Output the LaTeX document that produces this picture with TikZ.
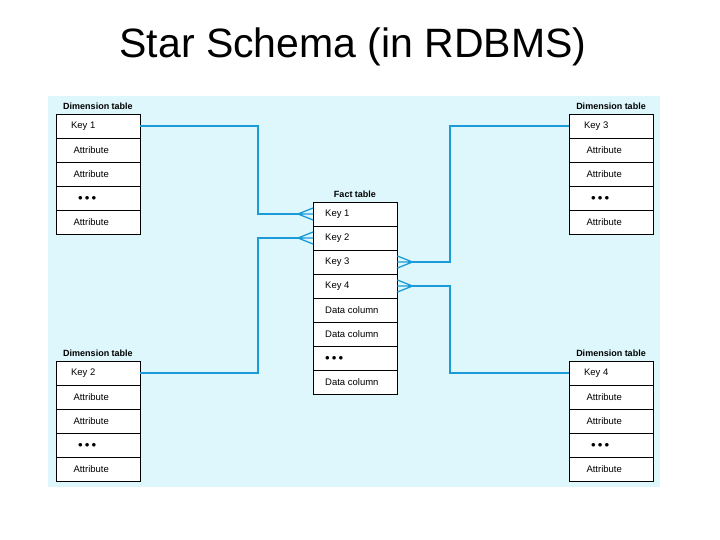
\documentclass[tikz,border=0pt]{standalone}
\usepackage{fontspec}
\setmainfont{Liberation Sans}
\usetikzlibrary{positioning,calc}
\definecolor{bgcyan}{HTML}{DDF7FC}
\definecolor{linkblue}{HTML}{1A9BD7}
\tikzset{
  cell/.style={draw=black,fill=white,minimum width=84pt,minimum height=23.6pt,
    inner sep=0pt,font=\fontsize{9.5}{10}\selectfont,anchor=north west},
  ttl/.style={font=\fontsize{9}{10}\selectfont\bfseries,inner sep=0pt},
  link/.style={linkblue,line width=2pt},
  foot/.style={linkblue,line width=1.3pt}
}
\newcommand{\dimtable}[4]{% name, x, y, key
  \node[ttl] at (#2+42,#3-8) {Dimension table};
  \node[cell] (#1r1) at (#2,#3) {\hspace*{-30pt}#4};
  \node[cell,below=0pt of #1r1.south west,anchor=north west] (#1r2) {\hspace*{-14pt}Attribute};
  \node[cell,below=0pt of #1r2.south west,anchor=north west] (#1r3) {\hspace*{-14pt}Attribute};
  \node[cell,below=0pt of #1r3.south west,anchor=north west] (#1r4) {\hspace*{-22pt}$\bullet\bullet\bullet$};
  \node[cell,below=0pt of #1r4.south west,anchor=north west] (#1r5) {\hspace*{-14pt}Attribute};
}
\begin{document}
\begin{tikzpicture}[x=1pt,y=-1pt]
\useasboundingbox (0,0) rectangle (720,540);
\node[font=\fontsize{41}{48}\selectfont] (title) at (353,47) {Star Schema (in RDBMS)};
\fill[bgcyan] (48,96) rectangle (660,487);
%
\dimtable{tl}{56}{114}{Key 1}
\dimtable{bl}{56}{361}{Key 2}
\dimtable{tr}{569}{114}{Key 3}
\dimtable{br}{569}{361}{Key 4}
%
\node[ttl] at (355,194) {Fact table};
\node[cell] (f1) at (313,202) {\hspace*{-20pt}\makebox[40pt][l]{Key 1}};
\foreach \t [count=\i from 2, evaluate=\i as \j using int(\i-1)] in
  {Key 2,Key 3,Key 4,Data column,Data column,$\bullet\bullet\bullet$,Data column}
  \node[cell,below=0pt of f\j.south west,anchor=north west] (f\i) {\hspace*{-20pt}\makebox[40pt][l]{\t}};
%
\coordinate (c1) at ($(f1.west)+(-15,0)$);
\coordinate (c2) at ($(f2.west)+(-15,0)$);
\coordinate (c3) at ($(f3.east)+(15,0)$);
\coordinate (c4) at ($(f4.east)+(15,0)$);
\coordinate (ml) at (258,0);
\coordinate (mr) at (450,0);
\draw[link] (tlr1.east) -| (ml |- c1) -- (c1);
\draw[link] (blr1.east) -| (ml |- c2) -- (c2);
\draw[link] (trr1.west) -| (mr |- c3) -- (c3);
\draw[link] (brr1.west) -| (mr |- c4) -- (c4);
\foreach \k/\s in {1/west,2/west,3/east,4/east}
  \draw[foot] ($(f\k.\s)+(0,-6)$) -- (c\k) -- ($(f\k.\s)+(0,6)$)
              (f\k.\s) -- (c\k);
\end{tikzpicture}
\end{document}
